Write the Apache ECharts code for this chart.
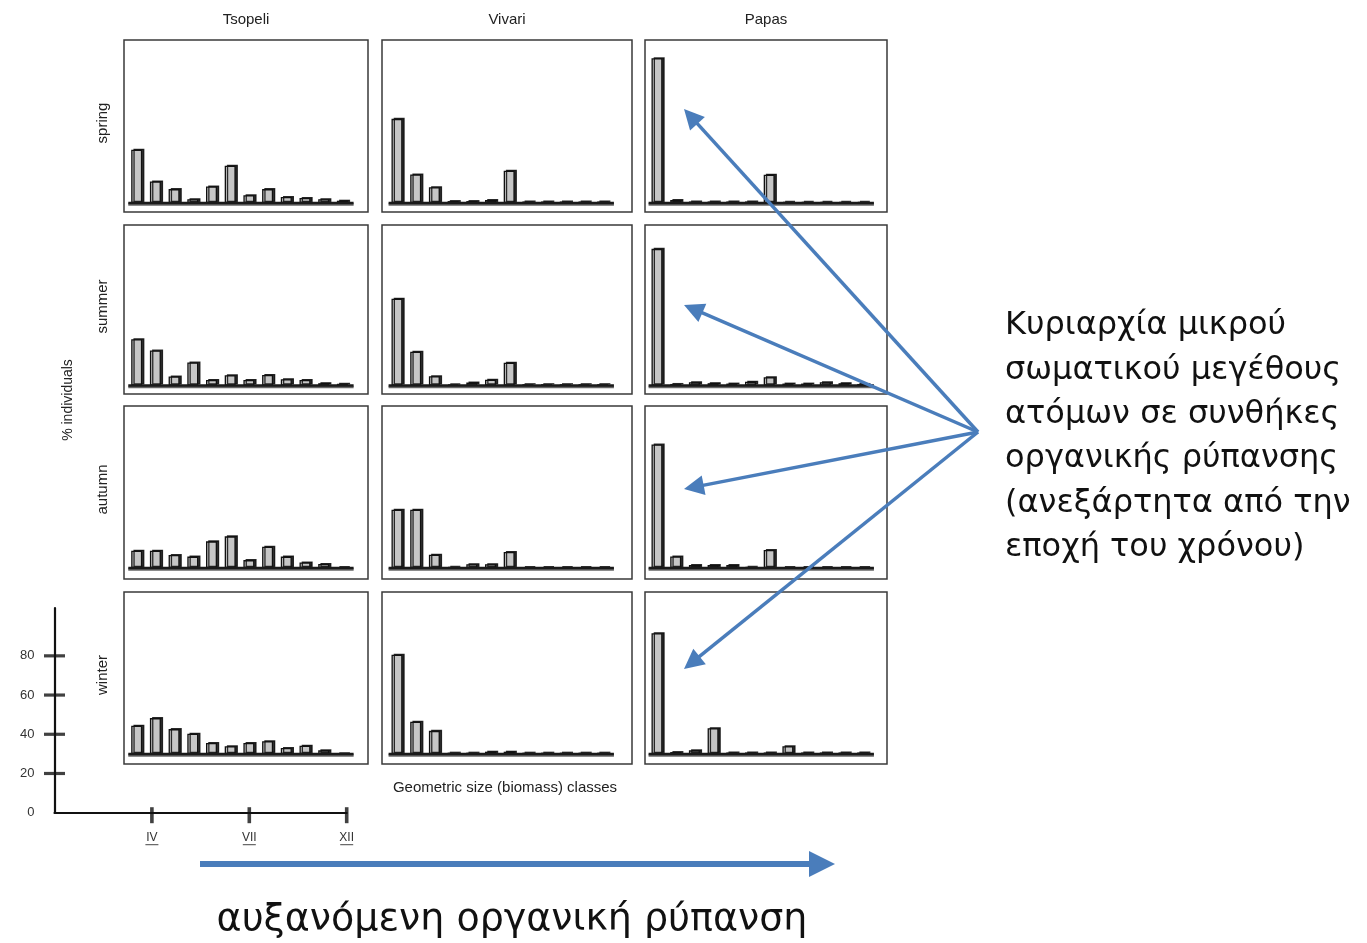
<!DOCTYPE html>
<html><head><meta charset="utf-8">
<script src="https://cdn.jsdelivr.net/npm/echarts@6/dist/echarts.min.js"></script>
<style>html,body{margin:0;padding:0;background:#fff}#c{width:1367px;height:943px}</style>
</head><body><div id="c"></div>
<script>
// ---------------- DATA ----------------
const sites = ['Tsopeli', 'Vivari', 'Papas'];
const seasons = ['spring', 'summer', 'autumn', 'winter'];
const sizeClasses = ['I','II','III','IV','V','VI','VII','VIII','IX','X','XI','XII'];

const tsopeliSpring = [27.6, 11.2, 7.2, 2.0, 8.6, 19.3, 4.0, 7.2, 3.1, 2.6, 2.0, 1.2];
const vivariSpring  = [43.6, 14.8, 8.2, 1.0, 1.0, 1.5, 16.7, 0.8, 0.8, 0.8, 0.8, 0.8];
const papasSpring   = [75.0, 1.5, 0.8, 0.8, 0.8, 0.8, 14.7, 0.6, 0.6, 0.6, 0.6, 0.6];

const tsopeliSummer = [24.0, 18.1, 4.7, 11.9, 2.9, 5.3, 2.9, 5.5, 3.3, 2.9, 1.2, 0.9];
const vivariSummer  = [45.0, 17.5, 4.8, 0.5, 1.5, 3.0, 11.8, 0.7, 0.7, 0.7, 0.7, 0.7];
const papasSummer   = [70.8, 0.8, 1.7, 1.2, 1.0, 2.0, 4.3, 1.0, 1.0, 1.7, 1.2, 0.8];

const tsopeliAutumn = [9.0, 9.0, 6.7, 5.9, 13.8, 16.4, 4.1, 11.0, 5.9, 2.9, 2.1, 0.3];
const vivariAutumn  = [30.2, 30.2, 6.9, 0.5, 2.0, 2.0, 8.3, 0.3, 0.3, 0.3, 0.3, 0.3];
const papasAutumn   = [64.0, 6.0, 1.5, 1.5, 1.5, 0.5, 9.3, 0.3, 0.3, 0.3, 0.3, 0.3];

const tsopeliWinter = [14.7, 18.6, 12.9, 10.5, 5.7, 4.0, 5.7, 6.6, 3.1, 4.3, 1.9, 0.2];
const vivariWinter  = [51.4, 16.7, 12.0, 0.7, 0.7, 1.2, 1.2, 0.7, 0.7, 0.7, 0.7, 0.7];
const papasWinter   = [62.6, 1.0, 1.9, 13.4, 0.8, 0.8, 0.8, 4.0, 0.8, 0.8, 0.8, 0.8];

const legendYTicks = [0, 20, 40, 60, 80];
const legendXTicks = ['IV', 'VII', 'XII'];

const yAxisTitle = '% individuals';
const xAxisTitle = 'Geometric size (biomass) classes';
const annotationLines = ['Κυριαρχία μικρού', 'σωματικού μεγέθους', 'ατόμων σε συνθήκες',
  'οργανικής ρύπανσης', '(ανεξάρτητα από την', 'εποχή του χρόνου)'];
const trendText = 'αυξανόμενη οργανική ρύπανση';

const values = [
  [tsopeliSpring, vivariSpring, papasSpring],
  [tsopeliSummer, vivariSummer, papasSummer],
  [tsopeliAutumn, vivariAutumn, papasAutumn],
  [tsopeliWinter, vivariWinter, papasWinter]
];

// ---------------- LAYOUT ----------------
const colLeft = [124, 382, 645], colWidth = [244, 250, 242], firstBarOffset = [12.7, 15, 12];
const rowTop = [40, 225, 406, 592], rowHeight = [172, 169, 173, 172], baseOffset = [9, 8.5, 11, 10];
const PX_PER_UNIT = 1.93, BAR_STEP = 18.7;
const ARROW = '#4a7dbb';
const LABEL_FONT = '"Liberation Sans", Arial, sans-serif';
const GREEK_FONT = '"DejaVu Sans", Verdana, sans-serif';

const grid = [], xAxis = [], yAxis = [], series = [];
let gi = 0;
seasons.forEach((season, r) => {
  sites.forEach((site, c) => {
    grid.push({ left: colLeft[c], top: rowTop[r], width: colWidth[c], height: rowHeight[r],
      show: true, borderColor: '#3a3a3a', borderWidth: 1.5, backgroundColor: 'transparent' });
    const xmin = 1 - firstBarOffset[c] / BAR_STEP;
    xAxis.push({ type: 'value', gridIndex: gi, min: xmin, max: xmin + colWidth[c] / BAR_STEP, show: false });
    const ymin = -baseOffset[r] / PX_PER_UNIT;
    yAxis.push({ type: 'value', gridIndex: gi, min: ymin, max: ymin + rowHeight[r] / PX_PER_UNIT, show: false });
    series.push({
      type: 'bar', xAxisIndex: gi, yAxisIndex: gi, barWidth: 11,
      data: sizeClasses.map((cl, i) => [i + 1, values[r][c][i]]),
      itemStyle: { color: '#c6c6c6', borderColor: '#111', borderWidth: 1.3,
        shadowColor: 'rgba(0,0,0,0.8)', shadowOffsetX: 2.2, shadowOffsetY: -1, shadowBlur: 0 },
      z: 2
    });
    series.push({
      type: 'line', xAxisIndex: gi, yAxisIndex: gi, symbol: 'none', silent: true,
      data: [[0.55, 0], [sizeClasses.length + 0.6, 0]],
      lineStyle: { color: '#1a1a1a', width: 2.5, shadowColor: 'rgba(0,0,0,0.6)', shadowOffsetY: 1.5, shadowBlur: 0 },
      z: 3
    });
    gi++;
  });
});

// legend axis (bottom-left)
const LG = gi;
grid.push({ left: 54.5, top: 608, width: 292.2, height: 204.7 });
xAxis.push({ type: 'value', gridIndex: LG, min: 0, max: legendXTicks.length, interval: 1,
  axisLine: { lineStyle: { color: '#111', width: 2.2 } }, axisTick: { show: false }, splitLine: { show: false },
  axisLabel: { margin: 18, color: '#333',
    formatter: v => (v >= 1 && v <= legendXTicks.length) ? '{u|' + legendXTicks[v - 1] + '}\n{l| }' : '',
    rich: { u: { fontSize: 12, fontFamily: LABEL_FONT, color: '#333', lineHeight: 13 },
            l: { width: 13, height: 1, backgroundColor: '#444', lineHeight: 2 } } } });
yAxis.push({ type: 'value', gridIndex: LG, min: 0, max: 104.4, interval: 20,
  axisLine: { show: true, lineStyle: { color: '#111', width: 2.2 } }, axisTick: { show: false }, splitLine: { show: false },
  axisLabel: { margin: 20, color: '#333', fontSize: 13, fontFamily: LABEL_FONT,
    formatter: v => legendYTicks.includes(v) ? String(v) : '' } });
series.push({ type: 'scatter', xAxisIndex: LG, yAxisIndex: LG, clip: false, silent: true,
  symbol: 'rect', symbolSize: [21, 3.2], itemStyle: { color: '#111' },
  data: legendYTicks.filter(v => v > 0).map(v => [0, v]) });
series.push({ type: 'scatter', xAxisIndex: LG, yAxisIndex: LG, clip: false, silent: true,
  symbol: 'rect', symbolSize: [3.6, 16], symbolOffset: [0, 2.5], itemStyle: { color: '#111' },
  data: legendXTicks.map((t, i) => [i + 1, 0]) });

// overlay for annotation arrows (pixel space)
const OV = LG + 1;
grid.push({ left: 0, top: 0, width: 1367, height: 943 });
xAxis.push({ type: 'value', gridIndex: OV, min: 0, max: 1367, show: false });
yAxis.push({ type: 'value', gridIndex: OV, min: 0, max: 943, inverse: true, show: false });
const hub = [978, 432];
const tips = [[684, 109], [684, 305], [684, 489], [684, 669]];
const headLen = 20;
const diagData = tips.map(t => {
  const dx = t[0] - hub[0], dy = t[1] - hub[1], L = Math.hypot(dx, dy);
  return { coords: [hub, [t[0] - dx / L * headLen / 2, t[1] - dy / L * headLen / 2]] };
});
series.push({ type: 'lines', coordinateSystem: 'cartesian2d', xAxisIndex: OV, yAxisIndex: OV, silent: true,
  symbol: ['none', 'triangle'], symbolSize: [16, headLen],
  lineStyle: { color: ARROW, width: 3.5, opacity: 1, curveness: 0 }, data: diagData, z: 10 });
series.push({ type: 'lines', coordinateSystem: 'cartesian2d', xAxisIndex: OV, yAxisIndex: OV, silent: true,
  symbol: ['none', 'triangle'], symbolSize: [24, 26],
  lineStyle: { color: ARROW, width: 6, opacity: 1, curveness: 0 },
  data: [{ coords: [[200, 864], [822, 864]] }], z: 10 });

// texts
const graphic = [];
sites.forEach((s, c) => graphic.push({ type: 'text', x: colLeft[c] + colWidth[c] / 2, y: 20,
  style: { text: s, font: '15px ' + LABEL_FONT, fill: '#222', align: 'center', verticalAlign: 'middle' } }));
seasons.forEach((s, r) => graphic.push({ type: 'text', x: 103, y: rowTop[r] + rowHeight[r] / 2 - 3, rotation: Math.PI / 2,
  style: { text: s, font: '15px ' + LABEL_FONT, fill: '#222', align: 'center', verticalAlign: 'middle' } }));
graphic.push({ type: 'text', x: 68, y: 400, rotation: Math.PI / 2,
  style: { text: yAxisTitle, font: '14px ' + LABEL_FONT, fill: '#222', align: 'center', verticalAlign: 'middle' } });
graphic.push({ type: 'text', x: 505, y: 788,
  style: { text: xAxisTitle, font: '15px ' + LABEL_FONT, fill: '#222', align: 'center', verticalAlign: 'middle' } });
graphic.push({ type: 'text', x: 1005, y: 304,
  style: { text: annotationLines.join('\n'), font: '32px ' + GREEK_FONT, lineHeight: 44.3, fill: '#111', align: 'left', verticalAlign: 'top' } });
graphic.push({ type: 'text', x: 512, y: 920,
  style: { text: trendText, font: '38px ' + GREEK_FONT, fill: '#111', align: 'center', verticalAlign: 'middle' } });

const chart = echarts.init(document.getElementById('c'), null, { renderer: 'canvas' });
chart.setOption({ animation: false, backgroundColor: '#fff', grid, xAxis, yAxis, series, graphic });
</script></body></html>
